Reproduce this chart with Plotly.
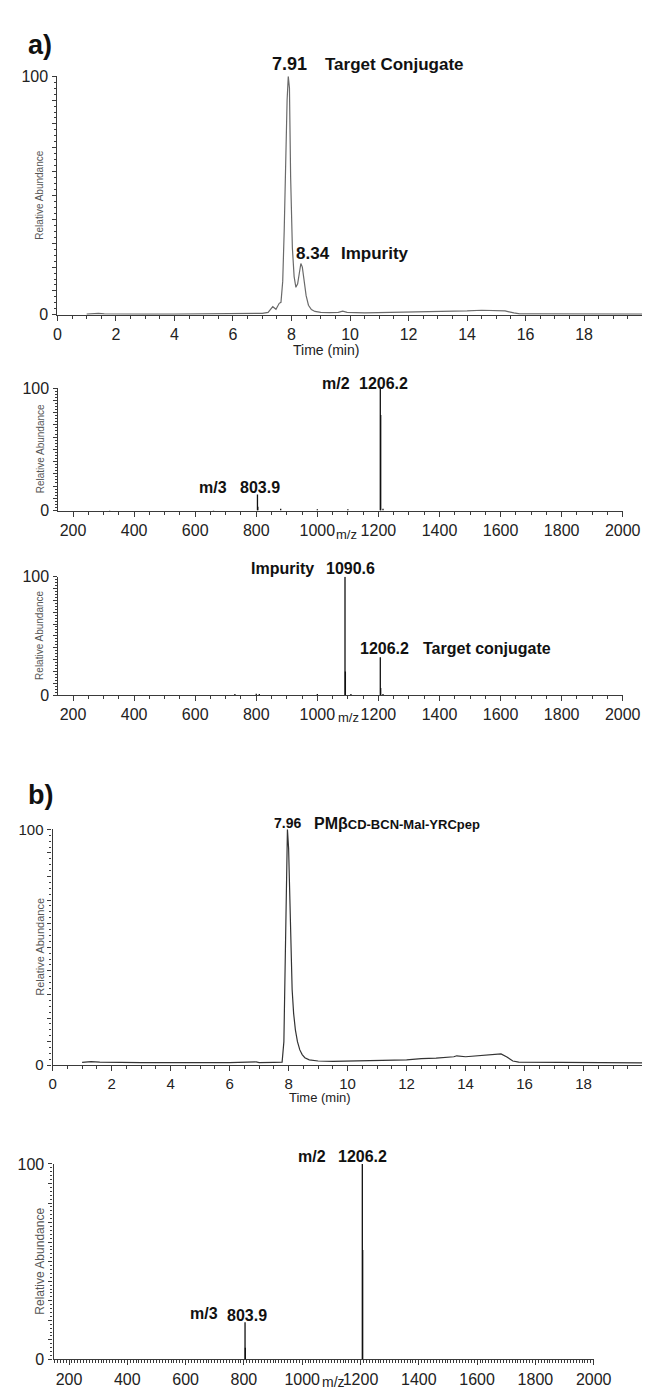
import plotly.graph_objects as go

W, H = 653, 1388

# ---------------- data ----------------
# Chromatogram a) : retention time (min) vs relative abundance (%)
time_a = [1.0, 1.2, 1.4, 1.6, 2.0, 3.0, 4.0, 5.0, 6.0, 6.8, 7.0, 7.2, 7.36, 7.47, 7.58, 7.64,
          7.70, 7.75, 7.80, 7.85, 7.89, 7.93, 7.97, 8.03, 8.09, 8.15, 8.21, 8.27, 8.32, 8.37,
          8.43, 8.50, 8.58, 8.68, 8.80, 9.0, 9.3, 9.6, 9.75, 9.9, 10.5, 11.0, 11.5, 12.0,
          13.0, 14.0, 14.5, 15.0, 15.3, 15.6, 15.8, 16.5, 17.5, 18.5, 19.5, 20.0]
abund_a = [0.3, 0.5, 0.6, 0.4, 0.3, 0.3, 0.3, 0.3, 0.4, 0.5, 0.6, 1.0, 3.4, 2.3, 4.8, 5.2,
           14, 35, 65, 90, 100, 95, 58, 28, 16, 11.5, 13, 18, 21.5, 20,
           14, 8, 4, 2.2, 1.4, 1.0, 0.9, 1.0, 1.5, 1.0, 0.8, 0.9, 1.2, 1.0,
           1.3, 1.6, 1.9, 1.8, 1.6, 0.8, 0.4, 0.4, 0.3, 0.3, 0.3, 0.3]

# Mass spectrum of the 7.91 min peak
mz_a1 = [320, 660, 803.9, 805.0, 880, 1000, 1100, 1206.2, 1207.5, 1215]
int_a1 = [0.5, 0.5, 13, 3, 1.5, 1.0, 1.0, 100, 78, 1.5]

# Mass spectrum of the 8.34 min peak
mz_a2 = [730, 800, 810, 1000, 1090.6, 1091.8, 1110, 1206.2, 1207.4, 1215]
int_a2 = [1.0, 1.2, 1.0, 1.0, 100, 20, 1.0, 32, 6, 1.0]

# Chromatogram b)
time_b = [1.0, 1.3, 1.6, 2.0, 3.0, 4.0, 5.0, 6.0, 6.9, 7.0, 7.5, 7.78, 7.84, 7.88, 7.92, 7.96,
          8.00, 8.04, 8.08, 8.12, 8.17, 8.23, 8.30, 8.38, 8.46, 8.55, 8.70, 9.0, 9.5, 10.0,
          11.0, 12.0, 12.5, 13.0, 13.6, 13.7, 14.0, 14.5, 15.0, 15.2, 15.4, 15.6, 15.8, 16.5,
          18.0, 19.0, 20.0]
abund_b = [1.2, 1.5, 1.3, 1.2, 1.1, 1.1, 1.0, 1.1, 1.4, 1.1, 1.2, 1.3, 10, 45, 85, 100,
           92, 70, 48, 32, 22, 15, 10, 6.5, 4.5, 3.2, 2.3, 1.8, 1.6, 1.7,
           1.9, 2.3, 2.8, 3.0, 3.6, 4.0, 3.6, 4.2, 4.8, 4.8, 3.5, 1.8, 1.3, 1.2,
           1.1, 1.1, 1.0]

# Mass spectrum of the 7.96 min peak
mz_b = [803.9, 804.9, 1206.2, 1207.4]
int_b = [19, 6, 100, 56]

time_ticks = [0, 2, 4, 6, 8, 10, 12, 14, 16, 18]
mz_ticks = [200, 400, 600, 800, 1000, 1200, 1400, 1600, 1800, 2000]
y_ticks = [0, 10, 20, 30, 40, 50, 60, 70, 80, 90, 100]
y_ticktext = ["0", "", "", "", "", "", "", "", "", "", "100"]

# ---------------- helpers ----------------
FONT = "Liberation Sans, Arial, Helvetica, sans-serif"
AX = "#3a3a3a"


def sticks(mz, inten):
    xs, ys = [], []
    for m, v in zip(mz, inten):
        xs += [m, m, None]
        ys += [0, v, None]
    return xs, ys


def px(x, y):
    return x / W, 1 - y / H


fig = go.Figure()

# panel definitions: left px, right px, top px, bottom px
panels = [
    dict(x0=47, x1=652, y0=60, y1=301.7, xr=[0, 19.98], tv=time_ticks, minor=0.5, ymin=2.5, fs=16),
    dict(x0=48, x1=632, y0=376, y1=500, xr=[152, 2000], tv=mz_ticks, minor=50, ymin=2.5, fs=16),
    dict(x0=48, x1=632, y0=567, y1=687, xr=[152, 2000], tv=mz_ticks, minor=50, ymin=2.5, fs=16),
    dict(x0=42, x1=652, y0=823, y1=1062, xr=[0, 19.98], tv=time_ticks, minor=0.5, ymin=2.5, fs=15),
    dict(x0=43, x1=602, y0=1162, y1=1360, xr=[147, 2000], tv=mz_ticks, minor=10, ymin=2, fs=16),
]

layout_axes = {}
for k, p in enumerate(panels, start=1):
    xa = "xaxis" if k == 1 else f"xaxis{k}"
    ya = "yaxis" if k == 1 else f"yaxis{k}"
    ax_id = "x" if k == 1 else f"x{k}"
    ay_id = "y" if k == 1 else f"y{k}"
    layout_axes[xa] = dict(
        domain=[p["x0"] / W, p["x1"] / W], anchor=ay_id, range=p["xr"],
        tickmode="array", tickvals=p["tv"], ticks="outside", ticklen=5, tickwidth=1,
        tickcolor=AX, showline=True, linecolor=AX, linewidth=1.2, showgrid=False,
        zeroline=False, tickfont=dict(family=FONT, size=p["fs"], color="#222"),
        minor=dict(tickmode="linear", tick0=0, dtick=p["minor"], ticks="outside",
                   ticklen=3, tickcolor=AX, showgrid=False),
        fixedrange=True,
    )
    layout_axes[ya] = dict(
        domain=[1 - p["y1"] / H, 1 - p["y0"] / H], anchor=ax_id, range=[0, 100],
        tickmode="array", tickvals=y_ticks, ticktext=y_ticktext, ticks="outside",
        ticklen=4, tickwidth=1, tickcolor=AX, showline=True, linecolor=AX, linewidth=1.2,
        showgrid=False, zeroline=False, ticklabelstandoff=1,
        tickfont=dict(family=FONT, size=p["fs"], color="#222"),
        minor=dict(tickmode="linear", tick0=0, dtick=p["ymin"], ticks="outside",
                   ticklen=2, tickcolor=AX, showgrid=False),
        fixedrange=True,
    )

# traces
fig.add_trace(go.Scatter(x=time_a, y=abund_a, mode="lines", xaxis="x", yaxis="y",
                         line=dict(color="#6a6a6a", width=1.2), cliponaxis=False,
                         hoverinfo="skip"))
sx, sy = sticks(mz_a1, int_a1)
fig.add_trace(go.Scatter(x=sx, y=sy, mode="lines", xaxis="x2", yaxis="y2",
                         line=dict(color="#111", width=1.3), cliponaxis=False))
sx, sy = sticks(mz_a2, int_a2)
fig.add_trace(go.Scatter(x=sx, y=sy, mode="lines", xaxis="x3", yaxis="y3",
                         line=dict(color="#111", width=1.3), cliponaxis=False))
fig.add_trace(go.Scatter(x=time_b, y=abund_b, mode="lines", xaxis="x4", yaxis="y4",
                         line=dict(color="#333", width=1.2), cliponaxis=False))
sx, sy = sticks(mz_b, int_b)
fig.add_trace(go.Scatter(x=sx, y=sy, mode="lines", xaxis="x5", yaxis="y5",
                         line=dict(color="#111", width=1.3), cliponaxis=False))

annotations = []


def txt(x, y, text, size, bold=True, color="#111", xanchor="center", angle=0, family=FONT):
    xx, yy = px(x, y)
    annotations.append(dict(
        x=xx, y=yy, xref="paper", yref="paper", text=f"<b>{text}</b>" if bold else text,
        showarrow=False, xanchor=xanchor, yanchor="middle", textangle=angle,
        font=dict(family=family, size=size, color=color)))


# panel labels
txt(14, 28, "a)", 27, xanchor="left")
txt(15, 788, "b)", 27, xanchor="left")

# panel 1
txt(287, 48, "7.91", 18)
txt(322, 48, "Target Conjugate", 17, xanchor="left")
txt(312, 240, "8.34", 17)
txt(338, 240, "Impurity", 17, xanchor="left")
# panel 2
txt(335, 371, "m/2", 16)
txt(384, 371, "1206.2", 16)
txt(208, 477, "m/3", 16)
txt(257, 477, "803.9", 16)
# panel 3
txt(280, 559, "Impurity", 16)
txt(350, 559, "1090.6", 16)
txt(386, 640, "1206.2", 16)
txt(492, 640, "Target conjugate", 16)
# panel 4
txt(285, 817, "7.96", 14)
txt(310, 817, "<span style='font-size:16px'>PMβ</span>CD-BCN-Mal-YRCpep", 13, xanchor="left")
# panel 5
txt(310, 1154, "m/2", 16)
txt(363, 1154, "1206.2", 16)
txt(199, 1314, "m/3", 16)
txt(243, 1316, "803.9", 16)

# axis titles
txt(325, 337, "Time (min)", 14, bold=False, color="#222")
txt(319, 1095, "Time (min)", 13, bold=False, color="#222")
txt(346, 524, "m/z", 13, bold=False, color="#222")
txt(348, 710, "m/z", 13, bold=False, color="#222")
txt(333, 1383, "m/z", 14, bold=False, color="#222")

for yc, sz in [(181, 10), (438, 10), (627, 10), (942, 11), (1261, 12)]:
    txt(29, yc, "Relative Abundance", sz, bold=False, color="#555", angle=-90)

fig.update_layout(
    width=W, height=H, margin=dict(l=0, r=0, t=0, b=0),
    paper_bgcolor="white", plot_bgcolor="white", showlegend=False,
    annotations=annotations, **layout_axes,
)

fig.write_html("out.html")
